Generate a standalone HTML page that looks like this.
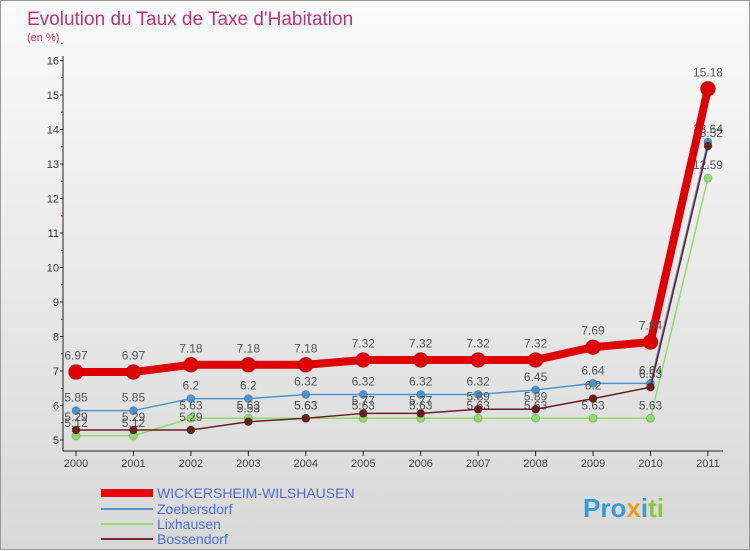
<!DOCTYPE html>
<html><head><meta charset="utf-8"><style>
body{margin:0;width:750px;height:550px;overflow:hidden;font-family:"Liberation Sans",sans-serif}
#wrap{position:absolute;left:0;top:0;width:748px;height:548px;border:1px solid #999;background:linear-gradient(#fafafa,#d8d8d8)}
</style></head><body>
<div id="wrap">
<svg id="chart" width="750" height="550" style="position:absolute;left:0;top:0">
<text x="26" y="24" font-size="19" fill="#c43371">Evolution du Taux de Taxe d'Habitation</text>
<text x="26" y="40" font-size="11" fill="#c43371">(en %)</text>
<g id="axes"></g><g id="series"></g>
<g>
<rect x="100" y="488" width="52" height="8" fill="#e00"/>
<text x="156" y="497" font-size="14" fill="#4a6fd0">WICKERSHEIM-WILSHAUSEN</text>
<line x1="100" y1="508" x2="152" y2="508" stroke="#4d94cf" stroke-width="2"/>
<text x="156" y="513" font-size="14" fill="#4a6fd0">Zoebersdorf</text>
<line x1="100" y1="523" x2="152" y2="523" stroke="#8fdc6a" stroke-width="2"/>
<text x="156" y="528" font-size="14" fill="#4a6fd0">Lixhausen</text>
<line x1="100" y1="538" x2="152" y2="538" stroke="#7a2a2a" stroke-width="2"/>
<text x="156" y="543" font-size="14" fill="#4a6fd0">Bossendorf</text>
</g>
<text x="582" y="516" font-size="26" font-weight="bold" fill="#3a9ad9">Pro<tspan fill="#f29a1e">x</tspan>i<tspan fill="#8cc63f">ti</tspan></text>
</svg></div>
<script>
const years=["2000","2001","2002","2003","2004","2005","2006","2007","2008","2009","2010","2011"];
const wick=[6.97,6.97,7.18,7.18,7.18,7.32,7.32,7.32,7.32,7.69,7.84,15.18];
const zoeb=[5.85,5.85,6.2,6.2,6.32,6.32,6.32,6.32,6.45,6.64,6.64,13.64];
const lix=[5.12,5.12,5.63,5.63,5.63,5.63,5.63,5.63,5.63,5.63,5.63,12.59];
const boss=[5.29,5.29,5.29,5.53,5.63,5.77,5.77,5.89,5.89,6.2,6.53,13.52];
const yTicks=[5,6,7,8,9,10,11,12,13,14,15,16];
const NS="http://www.w3.org/2000/svg";
const X=i=>75+i*57.45;
const Y=v=>439-(v-5)*34.5;
function mk(t,a,p){const e=document.createElementNS(NS,t);for(const k in a)e.setAttribute(k,a[k]);p.appendChild(e);return e;}
const ax=document.getElementById('axes');
const yl=mk('line',{x1:62,y1:55,x2:62,y2:450,stroke:'#222'},ax);


const xl=mk('line',{x1:62,y1:450,x2:722,y2:450,stroke:'#222'},ax);


yTicks.forEach(v=>{
 const t=mk('text',{x:58,y:Y(v)+4,'font-size':11,'text-anchor':'end',fill:'#333'},ax);t.textContent=v;
 
 
 mk('line',{x1:59,y1:Y(v),x2:62,y2:Y(v),stroke:'#222'},ax);
 mk('line',{x1:60,y1:Y(v+0.5),x2:62,y2:Y(v+0.5),stroke:'#d00'},ax);
});
years.forEach((y,i)=>{
 mk('line',{x1:X(i),y1:450,x2:X(i),y2:455,stroke:'#222'},ax);
 const t=mk('text',{x:X(i),y:466,'font-size':11,'text-anchor':'middle',fill:'#444'},ax);t.textContent=y;
 
 
});
const sg=document.getElementById('series');
function draw(vals,color,w,r,name){
 const g=mk('g',{},sg);
 
 
 const pl=mk('polyline',{points:vals.map((v,i)=>X(i)+','+Y(v)).join(' '),fill:'none',stroke:color,'stroke-width':w,'stroke-linejoin':'round'},g);
 
 
 vals.forEach((v,i)=>{
  const c=mk('circle',{cx:X(i),cy:Y(v),r:r,fill:color,stroke:'rgba(0,0,0,0.2)'},g);
  
  
  const t=mk('text',{x:X(i),y:Y(v)-r-5,'font-size':12,'text-anchor':'middle',fill:'#555'},g);t.textContent=v;
  
  
 });
}
draw(zoeb,'#4d94cf',1.5,4,'zoebersdorf');
draw(lix,'#8fdc6a',1.5,4,'lixhausen');
draw(boss,'#6b1e1e',1.5,4,'bossendorf');
draw(wick,'#e00000',8,7.5,'wickersheim');
</script>
</body></html>
